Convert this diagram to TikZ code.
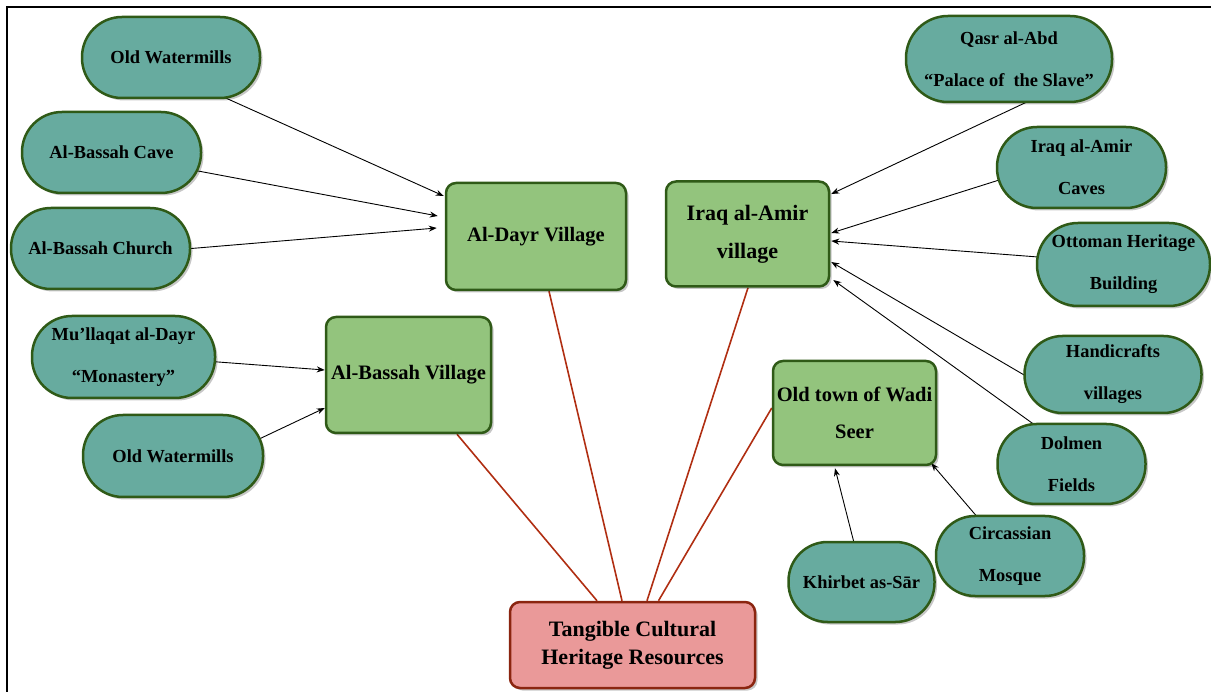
\documentclass[tikz,border=0pt]{standalone}
\usepackage{fontspec}
\setmainfont{Liberation Serif}
\usetikzlibrary{arrows.meta,shadows,backgrounds}
\definecolor{leaffill}{HTML}{67AB9F}
\definecolor{boxfill}{HTML}{93C47D}
\definecolor{edgegreen}{HTML}{2F5A17}
\definecolor{rootfill}{HTML}{EA9999}
\definecolor{rootedge}{HTML}{8B2510}
\definecolor{redline}{HTML}{B02E12}
\begin{document}
\begin{tikzpicture}[x=1pt,y=-1pt,
  shadowed/.style={drop shadow={shadow xshift=2.5pt,shadow yshift=-2.5pt,fill=black,opacity=0.22}},
  leaf/.style={shadowed, draw=edgegreen, line width=2.5pt, fill=leaffill, inner sep=0pt, align=center,
    font=\fontsize{18.4}{42}\selectfont\bfseries},
  vbox/.style={shadowed, draw=edgegreen, line width=2.5pt, fill=boxfill, rounded corners=10pt, inner sep=0pt, align=center,
    font=\fontsize{20.5}{37}\selectfont\bfseries},
  rootbox/.style={shadowed, draw=rootedge, line width=2.5pt, fill=rootfill, rounded corners=10pt, inner sep=0pt, align=center,
    font=\fontsize{22}{28}\selectfont\bfseries},
  arr/.style={draw=black, line width=0.9pt, -{Stealth[length=8pt,width=6pt]}, shorten <=-6pt},
  redlink/.style={draw=redline, line width=1.6pt}
]
\useasboundingbox (0,0) rectangle (1211,692);
\draw[line width=2.5pt] (7,692) -- (7,7) -- (1211,7);

% left leaves
\node[leaf, minimum width=178pt, minimum height=81pt, rounded corners=40pt] (w1) at (171,57.5) {Old Watermills};
\node[leaf, minimum width=179pt, minimum height=81pt, rounded corners=40pt] (cave) at (111.5,152.5) {Al-Bassah Cave};
\node[leaf, minimum width=179pt, minimum height=81pt, rounded corners=40pt] (church) at (100.5,248.5) {Al-Bassah Church};
\node[leaf, minimum width=183pt, minimum height=82pt, rounded corners=40pt] (mu) at (123.5,357) {Mu’llaqat al-Dayr\\“Monastery”};
\node[leaf, minimum width=180pt, minimum height=82pt, rounded corners=40pt] (w2) at (173,456) {Old Watermills};

% right leaves
\node[leaf, minimum width=206pt, minimum height=86pt, rounded corners=42pt] (qasr) at (1009,59) {Qasr al-Abd\\“Palace of\ \ the Slave"};
\node[leaf, minimum width=169pt, minimum height=81pt, rounded corners=40pt] (caves) at (1081.5,167.5) {Iraq al-Amir\\Caves};
\node[leaf, minimum width=173pt, minimum height=83pt, rounded corners=41pt] (otto) at (1123.5,264.5) {Ottoman Heritage\\Building};
\node[leaf, minimum width=177pt, minimum height=77pt, rounded corners=38pt] (handi) at (1113,374.5) {Handicrafts\\villages};
\node[leaf, minimum width=148pt, minimum height=80pt, rounded corners=39pt] (dolmen) at (1071.5,464) {Dolmen\\Fields};
\node[leaf, minimum width=148pt, minimum height=80pt, rounded corners=39pt] (circ) at (1010,556) {Circassian\\Mosque};
\node[leaf, minimum width=146pt, minimum height=80pt, rounded corners=39pt] (khir) at (861.5,582) {Khirbet as-Sār};

% villages
\node[vbox, minimum width=180pt, minimum height=107pt] (dayr) at (536,236.5) {Al-Dayr Village};
\node[vbox, minimum width=165pt, minimum height=116pt] (bassah) at (408.5,375) {Al-Bassah Village};
\node[vbox, minimum width=163pt, minimum height=105pt, font=\fontsize{22}{38}\selectfont\bfseries] (iraq) at (747.5,234) {Iraq al-Amir\\village};
\node[vbox, minimum width=163pt, minimum height=104pt] (old) at (854.5,413) {Old town of Wadi\\Seer};

% root
\node[rootbox, minimum width=245pt, minimum height=86pt] (root) at (632.5,645) {Tangible Cultural\\Heritage Resources};

\begin{scope}[on background layer]
\draw[arr] (w1.-36) -- ([xshift=-1pt,yshift=40.5pt]dayr.west);
\draw[arr] (cave.-12.9) -- ([xshift=-7pt,yshift=20.5pt]dayr.west);
\draw[arr] (church.0) -- ([xshift=-8pt,yshift=8.5pt]dayr.west);
\draw[arr] (mu.-3) -- ([yshift=5pt]bassah.west);
\draw[arr] (w2.12.5) -- ([yshift=-33pt]bassah.west);
\draw[arr] (qasr.-71) -- ([xshift=1pt,yshift=40pt]iraq.east);
\draw[arr] (caves.189.8) -- ([xshift=1pt,yshift=1pt]iraq.east);
\draw[arr] (otto.175) -- ([xshift=1pt,yshift=-7pt]iraq.east);
\draw[arr] (handi.180) -- ([xshift=1pt,yshift=-28pt]iraq.east);
\draw[arr] (dolmen.134) -- ([xshift=3pt,yshift=-46pt]iraq.east);
\draw[arr] (khir.101.7) -- ([xshift=-19.5pt,yshift=-2pt]old.south);
\draw[arr] (circ.130.5) -- ([xshift=-6pt,yshift=3pt]old.south east);

\draw[redlink] ([xshift=48.5pt]bassah.south) -- ([xshift=-35.5pt]root.north);
\draw[redlink] ([xshift=13pt]dayr.south) -- ([xshift=-10.5pt]root.north);
\draw[redlink] ([xshift=0.5pt]iraq.south) -- ([xshift=14.5pt]root.north);
\draw[redlink] ([yshift=5pt]old.west) -- ([xshift=26pt]root.north);
\end{scope}
\end{tikzpicture}
\end{document}
